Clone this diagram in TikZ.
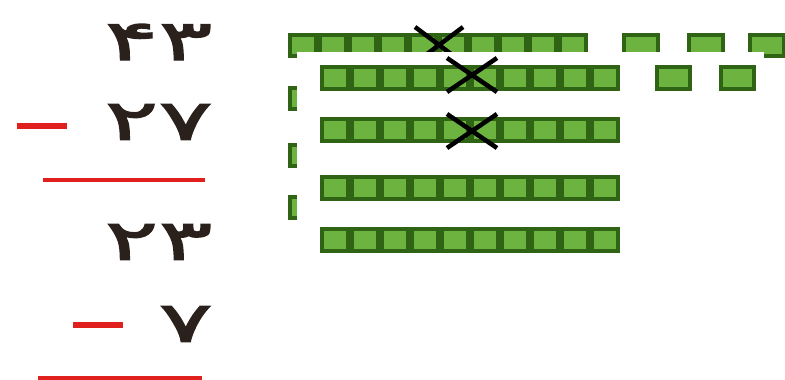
\documentclass[tikz,border=0pt]{standalone}
\usepackage{fontspec}
\newfontfamily\digitfont[Script=Arabic,FakeStretch=1.8,FakeBold=2.5]{DejaVu Sans}
\definecolor{cellfill}{HTML}{6DB33F}
\definecolor{celledge}{HTML}{2E6414}
\definecolor{minusred}{HTML}{E0201C}
\definecolor{digitcol}{HTML}{2B211C}

\begin{document}
\begin{tikzpicture}[x=1pt,y=-1pt,
		cell/.style={draw=celledge,fill=cellfill,line width=4pt},
		cross/.style={draw=black,line width=4.5pt},
		redbar/.style={draw=minusred,line width=#1},
		digit/.style={text=digitcol,inner sep=0pt,anchor=east,
			font=\digitfont\fontsize{56}{56}\selectfont}]
		\useasboundingbox (0,0) rectangle (785,380);
		% back strip
		\foreach \Y in {33,86,143,195}
		{\foreach \X in {0,...,9}
			{\draw[cell] (290+30*\X,\Y+2) rectangle ++(26,21);}}
		\foreach \X in {622,687,748}
		{\draw[cell] (\X+2,35) rectangle ++(34,21);}
		\draw[cross] (415,27) -- (463,63) (463,27) -- (415,63);
		\fill[white] (297,52) rectangle (764,300);
		% front strip
		\foreach \Y in {65,117,175,227}
		{\foreach \X in {0,...,9}
			{\draw[cell] (322+30*\X,\Y+2) rectangle ++(26,22);}}
		\foreach \X in {655,719}
		{\draw[cell] (\X+2,67) rectangle ++(33,22);}
		\foreach \Y in {75,131}
		{\draw[cross] (447,\Y-17) -- (497,\Y+17) (497,\Y-17) -- (447,\Y+17);}
		% the sums
		\node[digit] (n43) at (213,42) {۴۳};
		\node[digit] (n27) at (213,122) {۲۷};
		\node[digit] (n23) at (213,242) {۲۳};
		\node[digit] (n7) at (213,324) {۷};
		\draw[redbar=6pt] (17,126) -- (67,126);
		\draw[redbar=4pt] (43,180) -- (205,180);
		\draw[redbar=6pt] (73,325) -- (123,325);
		\draw[redbar=5pt] (38,378) -- (202,378);
\end{tikzpicture}
\end{document}
